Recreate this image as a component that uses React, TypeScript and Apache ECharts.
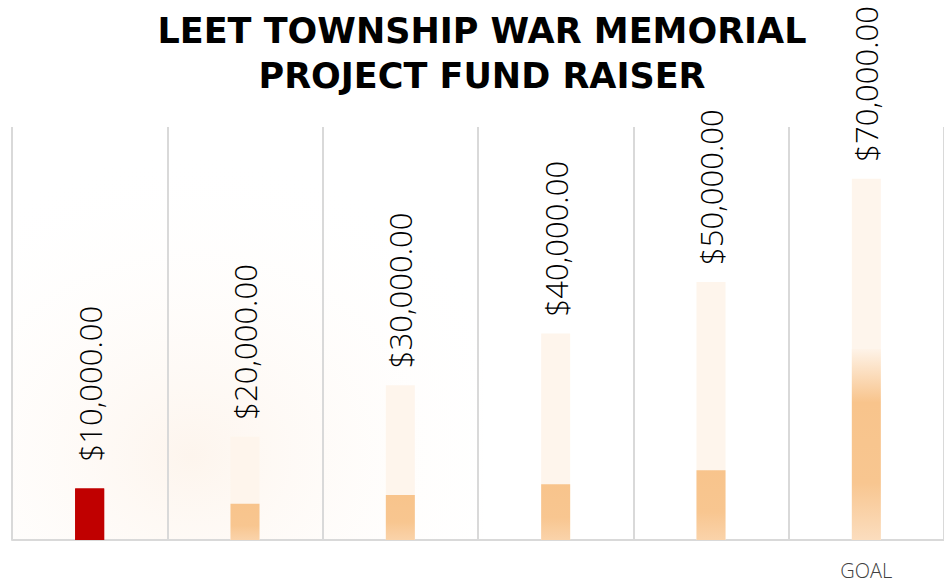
import React, { useEffect, useRef } from "react";
import * as echarts from "echarts";

const categories = ["", "", "", "", "", "GOAL"];
const goalValues = [10000, 20000, 30000, 40000, 50000, 70000];
const raisedValues = [10000, 7000, 8700, 10800, 13500, 37000];
const titleLines = ["LEET TOWNSHIP WAR MEMORIAL", "PROJECT FUND RAISER"];

const fmt = (v: number) =>
  "$" + v.toLocaleString("en-US", { minimumFractionDigits: 2, maximumFractionDigits: 2 });

export default function App() {
  const ref = useRef<HTMLDivElement>(null);
  useEffect(() => {
    if (!ref.current) return;
    const chart = echarts.init(ref.current, null, { renderer: "svg" });
    const orange = (last: boolean) =>
      new echarts.graphic.LinearGradient(0, 0, 0, 1, last
        ? [
            { offset: 0, color: "#FEF3E8" },
            { offset: 0.28, color: "#F8C48C" },
            { offset: 0.7, color: "#F8C690" },
            { offset: 1, color: "#FBDDBE" },
          ]
        : [
            { offset: 0, color: "#F8C48C" },
            { offset: 0.6, color: "#F8C690" },
            { offset: 1, color: "#FAD3AA" },
          ]);
    chart.setOption({
      animation: false,
      backgroundColor: "#ffffff",
      title: {
        text: titleLines.join("\n"),
        left: 482,
        top: 8,
        textAlign: "center",
        padding: 0,
        textStyle: {
          fontFamily: "DejaVu Sans",
          fontWeight: "bold",
          fontSize: 35,
          lineHeight: 45,
          color: "#000000",
        },
      },
      graphic: [
        {
          type: "rect",
          z: -10,
          shape: { x: 13, y: 128, width: 470, height: 411 },
          style: {
            fill: new echarts.graphic.RadialGradient(0.38, 0.8, 0.75, [
              { offset: 0, color: "rgba(250,226,204,0.35)" },
              { offset: 1, color: "rgba(255,255,255,0)" },
            ]),
          },
          silent: true,
        },
      ],
      grid: { left: 12, right: -5, top: 127, bottom: 42, containLabel: false },
      xAxis: {
        type: "category",
        data: categories,
        axisLine: { show: true, lineStyle: { color: "#D9D9D9", width: 2 } },
        axisTick: { show: false },
        splitLine: { show: true, interval: 0, lineStyle: { color: "#D9D9D9", width: 2 } },
        axisLabel: {
          interval: 0,
          margin: 20,
          color: "#404040",
          fontFamily: "Open Sans",
          fontWeight: 300,
          fontSize: 20,
        },
      },
      yAxis: {
        type: "value",
        min: 0,
        max: 80000,
        show: false,
        splitLine: { show: false },
      },
      series: [
        {
          name: "Goal",
          type: "bar",
          data: goalValues.map((v, i) => ({
            value: v,
            itemStyle: { color: i === 0 ? "#C00000" : "#FEF5EC" },
            label: { distance: i === 0 ? 27 : 17 },
          })),
          barWidth: 29,
          label: {
            show: true,
            position: "top",
            rotate: 90,
            align: "left",
            verticalAlign: "middle",
            fontFamily: "Open Sans",
            fontWeight: 300,
            fontSize: 31,
            color: "#000000",
            formatter: (p: any) => fmt(p.value),
          },
        },
        {
          name: "Raised",
          type: "bar",
          barGap: "-100%",
          barWidth: 29,
          data: raisedValues.map((v, i) => ({
            value: v,
            itemStyle: { color: i === 0 ? "#C00000" : orange(i === raisedValues.length - 1) },
          })),
        },
      ],
    });
    return () => chart.dispose();
  }, []);
  return (
    <div
      ref={ref}
      style={{ position: "fixed", left: 0, top: 0, width: 944, height: 582 }}
    />
  );
}
